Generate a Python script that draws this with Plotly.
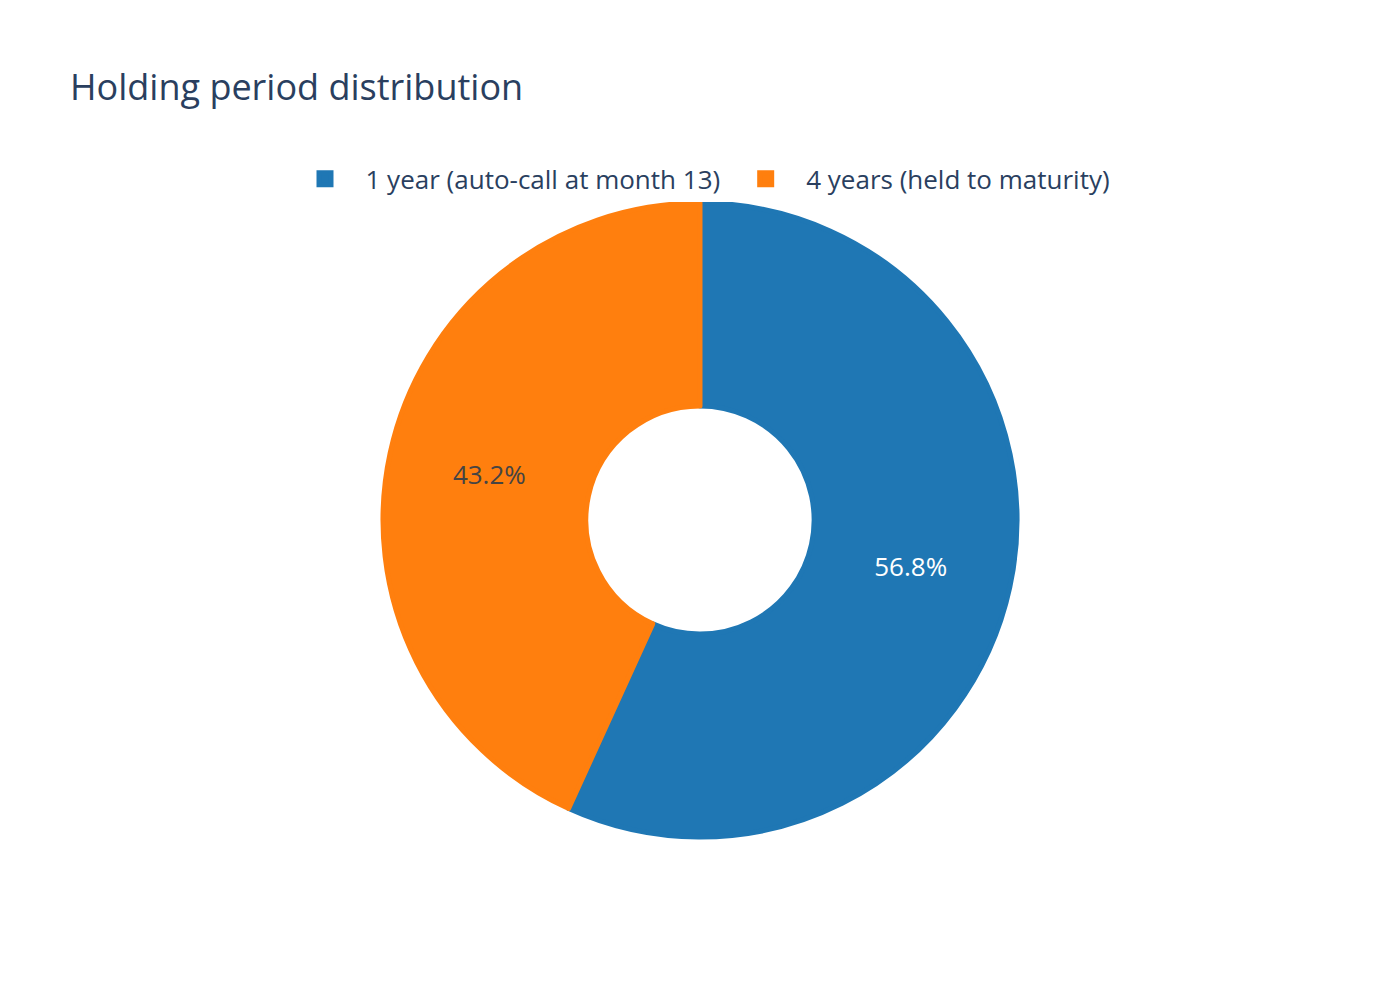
import plotly.graph_objects as go

labels = ["1 year (auto-call at month 13)", "4 years (held to maturity)"]
shares = [56.8, 43.2]
colors = ["#1f77b4", "#ff7f0e"]

fig = go.Figure()
fig.add_trace(go.Pie(
    labels=labels,
    values=shares,
    hole=0.36,
    sort=False,
    direction="clockwise",
    # edge in the slice colour, only so the legend squares come out bigger
    marker=dict(colors=colors, line=dict(color=colors, width=5)),
    textinfo="percent",
    textfont=dict(size=26),
))

fig.update_layout(
    width=1400,
    height=1000,
    template="plotly_white",
    font=dict(family="Open Sans, sans-serif", size=26, color="#2a3f5f"),
    title=dict(text="Holding period distribution", x=62 / 1400, y=0.921, yanchor="middle",
               font=dict(size=36)),
    margin=dict(l=154.5, r=170.5, t=194.5, b=170.5),
    legend=dict(orientation="h", x=0.5, xanchor="center", y=1.038, yanchor="middle",
                itemwidth=71, font=dict(size=26)),
)

fig.write_html("out.html")
